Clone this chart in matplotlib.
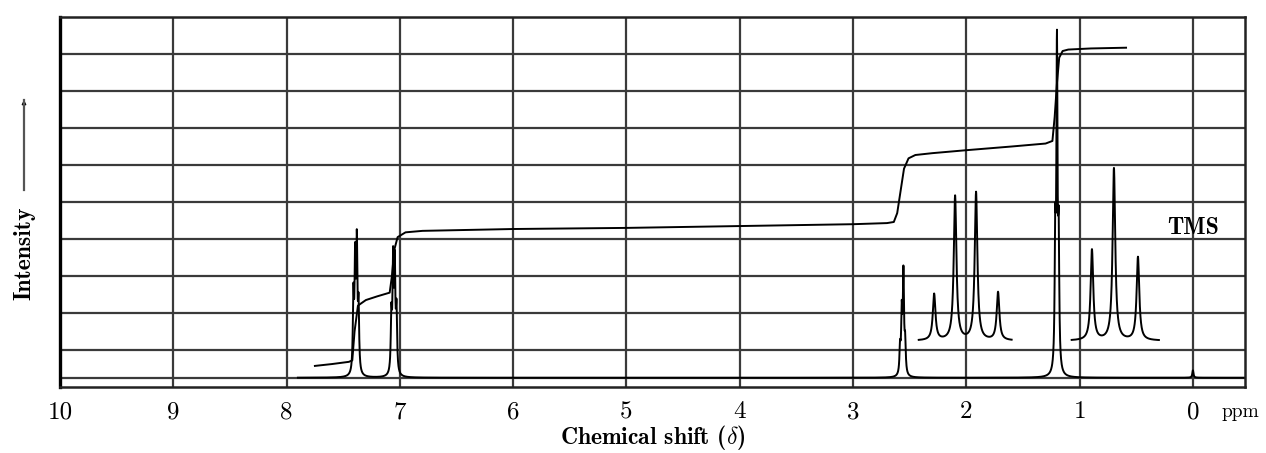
import numpy as np
import matplotlib.pyplot as plt

plt.rcParams['mathtext.fontset'] = 'cm'

# peaks of the full spectrum (ppm, height above baseline)
main_ppm = [7.41, 7.395, 7.38, 7.365, 7.075, 7.06, 7.045, 7.03,
            2.585, 2.57, 2.555, 2.54, 1.215, 1.20, 1.185, 0.00]
main_h = [2.0, 2.9, 3.3, 1.7, 1.5, 2.9, 2.8, 1.6,
          0.7, 1.6, 2.7, 0.8, 3.4, 8.5, 3.3, 0.2]
baseline = 0.25

# expanded multiplets drawn above the baseline
quartet_ppm = [2.284, 2.099, 1.914, 1.720]
quartet_h = [1.25, 3.9, 4.0, 1.3]
triplet_ppm = [0.891, 0.697, 0.485]
triplet_h = [2.45, 4.65, 2.25]
inset_base = 1.25

# integral trace (ppm, level)
integral_ppm = [7.75, 7.60, 7.45, 7.42, 7.40, 7.37, 7.30, 7.20, 7.09, 7.07,
                7.05, 7.02, 6.95, 6.80, 6.0, 5.0, 4.0, 3.0, 2.70, 2.64,
                2.61, 2.58, 2.55, 2.51, 2.45, 2.30, 2.0, 1.6, 1.30, 1.24,
                1.22, 1.20, 1.18, 1.15, 1.10, 0.90, 0.59]
integral_val = [0.57, 0.62, 0.68, 0.72, 1.5, 2.2, 2.35, 2.45, 2.55, 3.0,
                3.7, 4.05, 4.18, 4.22, 4.27, 4.30, 4.35, 4.40, 4.43, 4.46,
                4.7, 5.3, 5.9, 6.18, 6.27, 6.32, 6.40, 6.50, 6.58, 6.65,
                7.3, 8.2, 8.9, 9.08, 9.12, 9.15, 9.17]

tick_vals = list(range(10, -1, -1))
tick_labels = [str(t) for t in tick_vals]


def lorentz(x, centers, heights, hw):
    y = np.zeros_like(x)
    for c, h in zip(centers, heights):
        y += h * hw**2 / ((x - c)**2 + hw**2)
    return y


fig = plt.figure(figsize=(12.66, 4.53), dpi=100)
ax = fig.add_axes([60/1266, 1 - 387/453, (1245 - 60)/1266, (387 - 17)/453])

grid_col = '#3a3a3a'
ax.set_xlim(10, -0.46)
ax.set_ylim(0, 10)
ax.set_yticks(range(1, 10))
ax.set_xticks(tick_vals)
ax.set_xticklabels(tick_labels, fontfamily='cmr10', fontsize=18)
ax.tick_params(length=0, labelleft=False, pad=10)
ax.grid(True, color=grid_col, lw=1.6)
ax.axhline(baseline, color=grid_col, lw=1.6)
for s in ax.spines.values():
    s.set_color('#222222')
    s.set_linewidth(1.8)
ax.spines['left'].set_linewidth(2.4)
ax.spines['left'].set_color('black')

# main trace
x = np.linspace(7.9, -0.46, 6000)
ax.plot(x, baseline + lorentz(x, main_ppm, main_h, 0.006), color='black', lw=1.4)

# expansions
xq = np.linspace(2.42, 1.60, 1500)
ax.plot(xq, inset_base + lorentz(xq, quartet_ppm, quartet_h, 0.014), color='black', lw=1.4)
xt = np.linspace(1.07, 0.30, 1500)
ax.plot(xt, inset_base + lorentz(xt, triplet_ppm, triplet_h, 0.014), color='black', lw=1.4)

# integral
ax.plot(integral_ppm, integral_val, color='black', lw=1.4)

ax.text(0.0, 4.3, 'TMS', fontfamily='cmb10', fontsize=17, ha='center', va='center')

ax.set_xlabel(r'Chemical shift ($\delta$)', fontfamily='cmb10', fontsize=17, labelpad=0)
fig.text(1222/1266, 1 - 412/453, 'ppm', fontfamily='cmr10', fontsize=14, ha='left', va='center')
fig.text(24/1266, 1 - 253/453, 'Intensity', fontfamily='cmb10', fontsize=17,
         rotation=90, ha='center', va='center')
fig.add_artist(plt.Line2D([24/1266, 24/1266], [1 - 190/453, 1 - 100/453], color='#555555', lw=1.6))
ax.annotate('', xy=(24/1266, 1 - 97/453), xytext=(24/1266, 1 - 104/453),
            xycoords='figure fraction',
            arrowprops=dict(arrowstyle='-|>', lw=1.0, color='black', mutation_scale=6))

fig.savefig('out.png', dpi=100)
